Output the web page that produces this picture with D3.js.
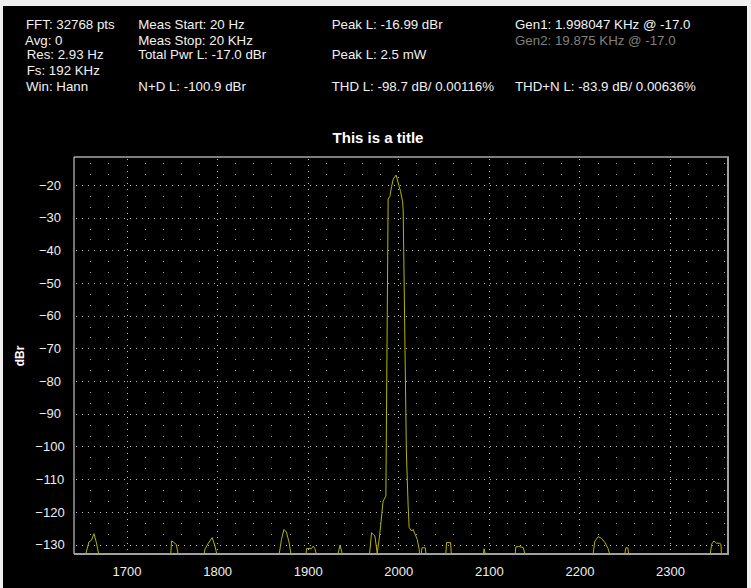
<!DOCTYPE html>
<html>
<head>
<meta charset="utf-8">
<script src="https://cdn.jsdelivr.net/npm/d3@7"></script>
<style>
  html, body { margin: 0; padding: 0; background: #000; }
  svg { display: block; }
  text { font-family: "Liberation Sans", Arial, sans-serif; }
</style>
</head>
<body>
<svg id="chart" width="751" height="588"></svg>
<script>
// Measurement readout, one array per column
const colStats1 = ["FFT: 32768 pts", "Avg: 0", "Res: 2.93 Hz", "Fs: 192 KHz", "Win: Hann"];
const colStats2 = ["Meas Start: 20 Hz", "Meas Stop: 20 KHz", "Total Pwr L: -17.0 dBr", "", "N+D L: -100.9 dBr"];
const colStats3 = ["Peak L: -16.99 dBr", "", "Peak L: 2.5 mW", "", "THD L: -98.7 dB/ 0.00116%"];
const colStats4 = ["Gen1: 1.998047 KHz @ -17.0", "Gen2: 19.875 KHz @ -17.0", "", "", "THD+N L: -83.9 dB/ 0.00636%"];

const chartTitle = "This is a title";
const yLabel = "dBr";

// Axis ticks
const xTicks = [1700, 1800, 1900, 2000, 2100, 2200, 2300];
const yTicks = [-20, -30, -40, -50, -60, -70, -80, -90, -100, -110, -120, -130];

// Spectrum trace: frequency (Hz) and level (dBr); values under the floor fall off the plot
const freqHz = [
  1642, 1654.0, 1658.5, 1661.2, 1664.1, 1666.7, 1670.0,
  1748.6, 1749.7, 1752.3, 1755.0, 1757.6,
  1784.6, 1786.8, 1790.1, 1794.5, 1797.5, 1800.5,
  1867.6, 1871.0, 1873.8, 1876.5, 1879.4, 1882.5,
  1897.7, 1898.8, 1904.3, 1906.1, 1907.9, 1910.5,
  1932.5, 1935.7, 1939.2,
  1967.9, 1970.5, 1972.3, 1974.2, 1976.7, 1978.9, 1980.5, 1982.7, 1983.3, 1986.3,
  1988.8, 1990.7, 1992.6, 1994.4, 1997.6, 2001.0, 2002.5, 2004.7, 2005.4,
  2008.9, 2010.9, 2012.0, 2014.7, 2016.4, 2018.3, 2020.9, 2023.1, 2023.8,
  2025.0, 2026.1, 2029.9, 2031.0,
  2052.2, 2053.3, 2057.7, 2058.8,
  2093.1, 2094.8, 2096.6,
  2128.7, 2129.8, 2133.0, 2136.0, 2137.9, 2140.9,
  2214.5, 2217.0, 2220.7, 2224.4, 2228.1, 2231.7, 2234.4,
  2249.4, 2251.2, 2253.4, 2254.9,
  2344.0, 2345.9, 2348.4, 2351.4, 2354.3, 2356.2, 2356.9, 2364
];
const levelDbr = [
  -140, -134, -129.2, -128.7, -126.7, -129.4, -134,
  -134, -128.9, -129.4, -130.0, -134,
  -134, -131.3, -129.7, -127.9, -130.3, -134,
  -134.5, -128.5, -125.4, -126.2, -129.3, -134.5,
  -134, -131.2, -131.2, -130.5, -131.2, -134,
  -134, -130.2, -134,
  -134, -126.4, -126.9, -127.4, -132.6, -128.4, -124.3, -118.2, -116.7, -115.2,
  -24.3, -23.5, -20.5, -18.2, -16.99, -20.5, -22.0, -25.0, -27.6,
  -101.4, -118.2, -124.8, -125.9, -125.4, -126.7, -128.4, -131.5, -134,
  -134, -131.0, -131.0, -134,
  -134, -129.4, -129.4, -134,
  -134, -131.3, -134,
  -134, -130.7, -130.6, -130.8, -130.9, -134,
  -134, -129.0, -127.6, -128.1, -129.4, -131.3, -134,
  -134, -131.0, -131.0, -134,
  -134, -129.9, -128.9, -129.6, -129.6, -129.9, -134, -140
];

const svg = d3.select("#chart");
const W = 751, H = 588;
const plot = { left: 74, right: 728, top: 157, bottom: 554 };

// Window chrome edges
svg.append("rect").attr("x", 0).attr("y", 0).attr("width", W).attr("height", H).attr("fill", "#000");
svg.append("rect").attr("x", 0).attr("y", 0).attr("width", W).attr("height", 6).attr("fill", "#efefef");
svg.append("rect").attr("x", 0).attr("y", 0).attr("width", 3).attr("height", H).attr("fill", "#efefef");
svg.append("rect").attr("x", W - 4).attr("y", 0).attr("width", 4).attr("height", H).attr("fill", "#efefef");

// Readout text
const rowY = [29.3, 45, 58.7, 75, 90.7];
const col1X = [26, 25, 26.7, 26.7, 26];
function drawColumn(lines, xs, colour) {
  lines.forEach((t, i) => {
    if (!t) return;
    svg.append("text")
      .attr("x", Array.isArray(xs) ? xs[i] : xs)
      .attr("y", rowY[i])
      .attr("font-size", "13.3px")
      .attr("fill", typeof colour === "function" ? colour(i) : colour)
      .text(t);
  });
}
drawColumn(colStats1, col1X, "#f2f2f2");
drawColumn(colStats2, 138.3, "#f2f2f2");
drawColumn(colStats3, 331.7, "#f2f2f2");
drawColumn(colStats4, 515, i => (i === 1 ? "#808080" : "#f2f2f2"));

// Title
svg.append("text")
  .attr("x", 378).attr("y", 143)
  .attr("text-anchor", "middle")
  .attr("font-size", "15px").attr("font-weight", "bold")
  .attr("fill", "#ffffff")
  .text(chartTitle);

// Scales
const x = d3.scaleLinear().domain([1642, 2364]).range([plot.left, plot.right]);
const y = d3.scaleLinear().domain([-132.9, -11.45]).range([plot.bottom, plot.top]);

// Grid: dotted major lines plus a lattice of minor dots
const grid = svg.append("g");
grid.selectAll("line.hmaj").data(yTicks).join("line")
  .attr("x1", plot.left + 2).attr("x2", plot.right)
  .attr("y1", d => Math.round(y(d)) + 0.5).attr("y2", d => Math.round(y(d)) + 0.5)
  .attr("stroke", "#bdbdbd").attr("stroke-width", 1).attr("stroke-dasharray", "1,5");
grid.selectAll("line.vmaj").data(xTicks).join("line")
  .attr("x1", d => Math.round(x(d)) + 0.5).attr("x2", d => Math.round(x(d)) + 0.5)
  .attr("y1", plot.top + 2).attr("y2", plot.bottom)
  .attr("stroke", "#bdbdbd").attr("stroke-width", 1).attr("stroke-dasharray", "1,5");

const minorX = d3.range(1660, 2364, 20).filter(f => f % 100 !== 0);
const minorY = d3.range(1, 37).map(k => -10 - k * 10 / 3).filter(v => Math.abs(v / 10 - Math.round(v / 10)) > 0.01 && v > -132.9 && v < -11.45);
const dots = [];
minorX.forEach(fx => minorY.forEach(vy => dots.push([fx, vy])));
grid.selectAll("rect.dot").data(dots).join("rect")
  .attr("x", d => Math.round(x(d[0])))
  .attr("y", d => Math.round(y(d[1])))
  .attr("width", 1).attr("height", 1)
  .attr("fill", "#a0a0a0");

// Trace, clipped to the plot area
svg.append("clipPath").attr("id", "plotClip")
  .append("rect")
  .attr("x", plot.left).attr("y", plot.top)
  .attr("width", plot.right - plot.left).attr("height", plot.bottom - plot.top);

const points = freqHz.map((f, i) => [f, levelDbr[i]]);
svg.append("path")
  .datum(points)
  .attr("clip-path", "url(#plotClip)")
  .attr("fill", "none")
  .attr("stroke", "#b4b400")
  .attr("stroke-width", 1)
  .attr("d", d3.line().x(d => x(d[0])).y(d => y(d[1])));

// Plot frame
svg.append("line").attr("x1", plot.left).attr("x2", plot.right + 1)
  .attr("y1", plot.top).attr("y2", plot.top)
  .attr("stroke", "#a8a8a8").attr("stroke-width", 1.5);
svg.append("line").attr("x1", plot.left).attr("x2", plot.left)
  .attr("y1", plot.top).attr("y2", plot.bottom)
  .attr("stroke", "#e6e6e6").attr("stroke-width", 1);
svg.append("line").attr("x1", plot.left).attr("x2", plot.right + 1)
  .attr("y1", plot.bottom).attr("y2", plot.bottom)
  .attr("stroke", "#a0a0a0").attr("stroke-width", 2);
svg.append("line").attr("x1", plot.right).attr("x2", plot.right)
  .attr("y1", plot.top).attr("y2", plot.bottom + 1)
  .attr("stroke", "#a0a0a0").attr("stroke-width", 2);

// Axes (labels only)
const yAxis = svg.append("g")
  .attr("transform", `translate(${plot.left},0)`)
  .call(d3.axisLeft(y).tickValues(yTicks).tickSize(0).tickFormat(d3.format("d")));
yAxis.select(".domain").remove();
yAxis.selectAll("text")
  .attr("x", -24).attr("text-anchor", "middle")
  .attr("font-size", "13px").attr("fill", "#eeeeee")
  .style("font-family", "'Liberation Sans', Arial, sans-serif");

const xAxis = svg.append("g")
  .attr("transform", `translate(0,${plot.bottom})`)
  .call(d3.axisBottom(x).tickValues(xTicks).tickSize(0).tickFormat(d3.format("d")));
xAxis.select(".domain").remove();
xAxis.selectAll("text")
  .attr("y", 13).attr("font-size", "13px").attr("fill", "#eeeeee")
  .style("font-family", "'Liberation Sans', Arial, sans-serif");

// Y-axis title
svg.append("text")
  .attr("transform", "translate(24,356) rotate(-90)")
  .attr("text-anchor", "middle")
  .attr("font-size", "12px").attr("font-weight", "bold")
  .attr("fill", "#ffffff")
  .text(yLabel);
</script>
</body>
</html>
